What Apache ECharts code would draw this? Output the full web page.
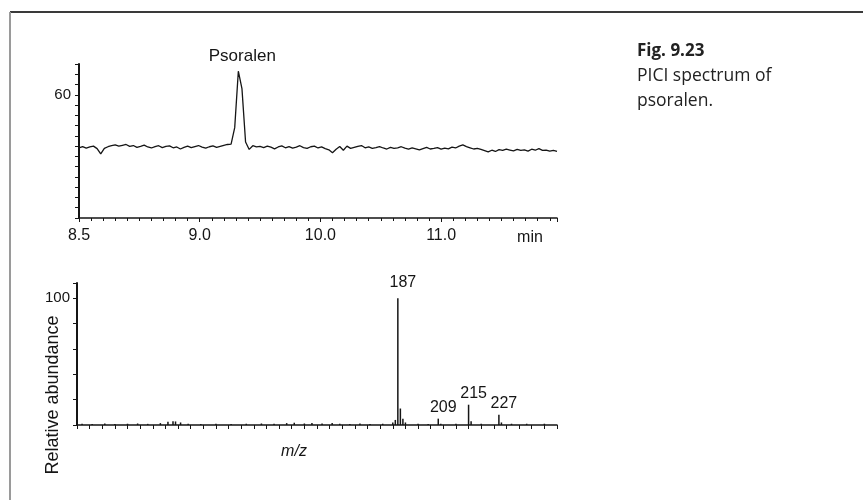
<!DOCTYPE html>
<html>
<head>
<meta charset="utf-8">
<script src="https://cdn.jsdelivr.net/npm/echarts@6/dist/echarts.min.js"></script>
<style>
html,body{margin:0;padding:0;background:#fff;}
#chart{width:863px;height:500px;}
</style>
</head>
<body>
<div id="chart"></div>
<script>
// ---- Chromatogram (top panel) ----
// Time axis drawn in label-index units: tick i carries timeTickLabels[i]
var timeTickLabels = ['8.5', '9.0', '10.0', '11.0'];
var traceStart = 0;       // first sample position (label-index units)
var traceStep = 0.03;     // sample spacing
var traceValues = [
  34.2, 34.8, 34.0, 34.6, 35.0, 33.8, 31.2, 33.9, 34.7, 35.2,
  35.6, 35.0, 35.4, 35.8, 34.9, 35.3, 34.4, 34.9, 35.5, 34.6,
  34.1, 34.8, 35.2, 34.3, 34.9, 35.1, 34.2, 34.6, 33.6, 34.4,
  35.0, 34.3, 34.8, 35.3, 34.5, 34.0, 34.7, 35.1, 34.4, 34.9,
  35.4, 35.8, 36.0, 44.0, 71.5, 63.0, 37.0, 33.4, 35.2, 34.6,
  34.9, 34.3, 35.0, 34.5, 33.7, 34.6, 35.1, 34.2, 34.8, 34.0,
  34.5, 35.2, 34.3, 33.9, 34.7, 35.0, 34.1, 34.6, 33.8, 33.2,
  31.8, 33.5, 34.8, 33.0, 35.0, 33.9, 34.4, 34.9, 35.3, 34.2,
  34.6, 33.9, 34.3, 34.8, 34.1, 33.6, 34.4, 33.9, 34.2, 34.7,
  34.0, 33.5, 34.1, 33.7, 33.2, 33.8, 34.4, 33.6, 33.9, 34.3,
  33.5, 34.0, 33.7, 34.5, 34.1, 35.0, 35.6, 34.8, 34.2, 33.6,
  33.9, 33.4, 32.8, 32.2, 33.0, 32.4, 33.3, 32.9, 33.5, 33.1,
  32.7, 33.4, 32.9, 33.2, 32.6, 33.5, 33.0, 33.8, 32.9, 33.1,
  32.6, 32.9, 32.4
];
var peakName = 'Psoralen';
var topYLabels = [60];

// ---- Mass spectrum (bottom panel) ----
var specMz = [62, 66, 71, 75, 80, 84, 88, 93, 96, 98, 99, 101, 104, 109, 115, 121, 127, 133, 138,
  143, 146, 150, 153, 157, 161, 164, 168, 172, 176, 181, 185, 186, 187, 188, 189, 190,
  195, 199, 203, 204, 210, 215, 216, 220, 227, 228, 232, 238, 245];
var specInt = [1, 0.8, 1.2, 0.8, 1, 1.2, 0.9, 1.5, 2.5, 3, 2.8, 2, 1, 0.8, 1, 0.8, 1, 1.2, 0.9,
  1.5, 1.8, 1.2, 1.5, 1.2, 1.5, 1, 0.8, 1.2, 0.8, 1, 2, 4, 100, 13, 5, 2,
  1, 0.8, 5, 1, 1, 16, 3, 1, 8, 2, 1, 1, 1];
var labelledMz = [187, 203, 215, 227];
var labelTexts = ['187', '209', '215', '227'];
var bottomYLabels = [100];

var chart = echarts.init(document.getElementById('chart'), null, {renderer: 'canvas'});
var FONT = 'Liberation Sans, Arial, sans-serif';
var INK = '#151515';

var traceData = traceValues.map(function (v, i) {
  return {value: [traceStart + traceStep * i, v]};
});
// label the maximum point with the compound name
var maxIdx = 0;
traceValues.forEach(function (v, i) { if (v > traceValues[maxIdx]) maxIdx = i; });
traceData[maxIdx].label = {
  show: true, position: 'top', distance: 6, offset: [4, 0],
  formatter: peakName, fontFamily: FONT, fontSize: 17, color: INK
};

var specData = specMz.map(function (m, i) {
  var item = {value: [m, specInt[i]]};
  var k = labelledMz.indexOf(m);
  if (k >= 0) {
    item.label = {
      show: true, position: 'top', distance: k === 0 ? 8 : 3, offset: [5, 0],
      formatter: labelTexts[k], fontFamily: FONT, fontSize: 16, color: INK
    };
  }
  return item;
});

var option = {
  backgroundColor: '#ffffff',
  animation: false,
  grid: [
    {left: 79, top: 64, width: 478, height: 154},
    {left: 77, top: 283, width: 480, height: 142}
  ],
  xAxis: [
    {
      gridIndex: 0, type: 'value', min: 0, max: 3.96, interval: 1,
      axisLine: {show: true, lineStyle: {color: INK, width: 1.5}},
      axisTick: {show: true, length: 4, lineStyle: {color: INK}},
      minorTick: {show: true, splitNumber: 10, length: 3, lineStyle: {color: INK}},
      splitLine: {show: false},
      axisLabel: {
        margin: 10, fontFamily: FONT, fontSize: 16, color: INK,
        showMinLabel: true, showMaxLabel: false,
        formatter: function (v) {
          var r = Math.round(v);
          if (Math.abs(v - r) < 1e-6 && r >= 0 && r < timeTickLabels.length) return timeTickLabels[r];
          return '';
        }
      }
    },
    {
      gridIndex: 1, type: 'value', min: 60, max: 250, interval: 5,
      axisLine: {show: true, lineStyle: {color: INK, width: 1.5}},
      axisTick: {show: true, length: 4, lineStyle: {color: INK}},
      splitLine: {show: false},
      axisLabel: {show: false}
    }
  ],
  yAxis: [
    {
      gridIndex: 0, type: 'value', min: 0, max: 75, interval: 5,
      axisLine: {show: true, lineStyle: {color: INK, width: 2}},
      axisTick: {show: true, length: 4, lineStyle: {color: INK}},
      splitLine: {show: false},
      axisLabel: {
        margin: 8, fontFamily: FONT, fontSize: 15, color: INK,
        formatter: function (v) { return topYLabels.indexOf(v) >= 0 ? String(v) : ''; }
      }
    },
    {
      gridIndex: 1, type: 'value', min: 0, max: 112, interval: 20,
      axisLine: {show: true, lineStyle: {color: INK, width: 2}},
      axisTick: {show: true, length: 4, lineStyle: {color: INK}},
      splitLine: {show: false},
      axisLabel: {
        margin: 7, fontFamily: FONT, fontSize: 15, color: INK,
        formatter: function (v) { return bottomYLabels.indexOf(v) >= 0 ? String(v) : ''; }
      }
    }
  ],
  series: [
    {
      type: 'line', xAxisIndex: 0, yAxisIndex: 0, data: traceData,
      showSymbol: true, showAllSymbol: true, symbol: 'circle', symbolSize: 0,
      itemStyle: {color: INK}, smooth: false,
      lineStyle: {color: INK, width: 1.3},
      label: {show: false}
    },
    {
      type: 'bar', xAxisIndex: 1, yAxisIndex: 1, data: specData,
      barWidth: 1.5, itemStyle: {color: INK},
      label: {show: false}
    }
  ],
  graphic: [
    {type: 'line', shape: {x1: 10, y1: 12, x2: 863, y2: 12}, style: {stroke: '#3a3a3a', lineWidth: 2}},
    {type: 'line', shape: {x1: 10, y1: 12, x2: 10, y2: 500}, style: {stroke: '#9a9a9a', lineWidth: 2}},
    {type: 'text', x: 530, y: 238, style: {text: 'min', font: '16px ' + FONT, fill: INK, align: 'center', verticalAlign: 'middle', textAlign: 'center', textVerticalAlign: 'middle'}},
    {type: 'text', x: 294, y: 452, style: {text: 'm/z', font: 'italic 16px ' + FONT, fill: INK, align: 'center', verticalAlign: 'middle', textAlign: 'center', textVerticalAlign: 'middle'}},
    {type: 'text', x: 53, y: 395, rotation: Math.PI / 2, style: {text: 'Relative abundance', font: '18px ' + FONT, fill: INK, align: 'center', verticalAlign: 'middle', textAlign: 'center', textVerticalAlign: 'middle'}},
    {type: 'text', x: 637, y: 51, style: {text: 'Fig. 9.23', font: 'bold 17px "Open Sans", sans-serif', fill: '#222', align: 'left', verticalAlign: 'middle', textAlign: 'left', textVerticalAlign: 'middle'}},
    {type: 'text', x: 637, y: 76, style: {text: 'PICI spectrum of', font: '17.5px "Open Sans", sans-serif', fill: '#222', align: 'left', verticalAlign: 'middle', textAlign: 'left', textVerticalAlign: 'middle'}},
    {type: 'text', x: 637, y: 101, style: {text: 'psoralen.', font: '17.5px "Open Sans", sans-serif', fill: '#222', align: 'left', verticalAlign: 'middle', textAlign: 'left', textVerticalAlign: 'middle'}}
  ]
};
chart.setOption(option);
</script>
</body>
</html>
